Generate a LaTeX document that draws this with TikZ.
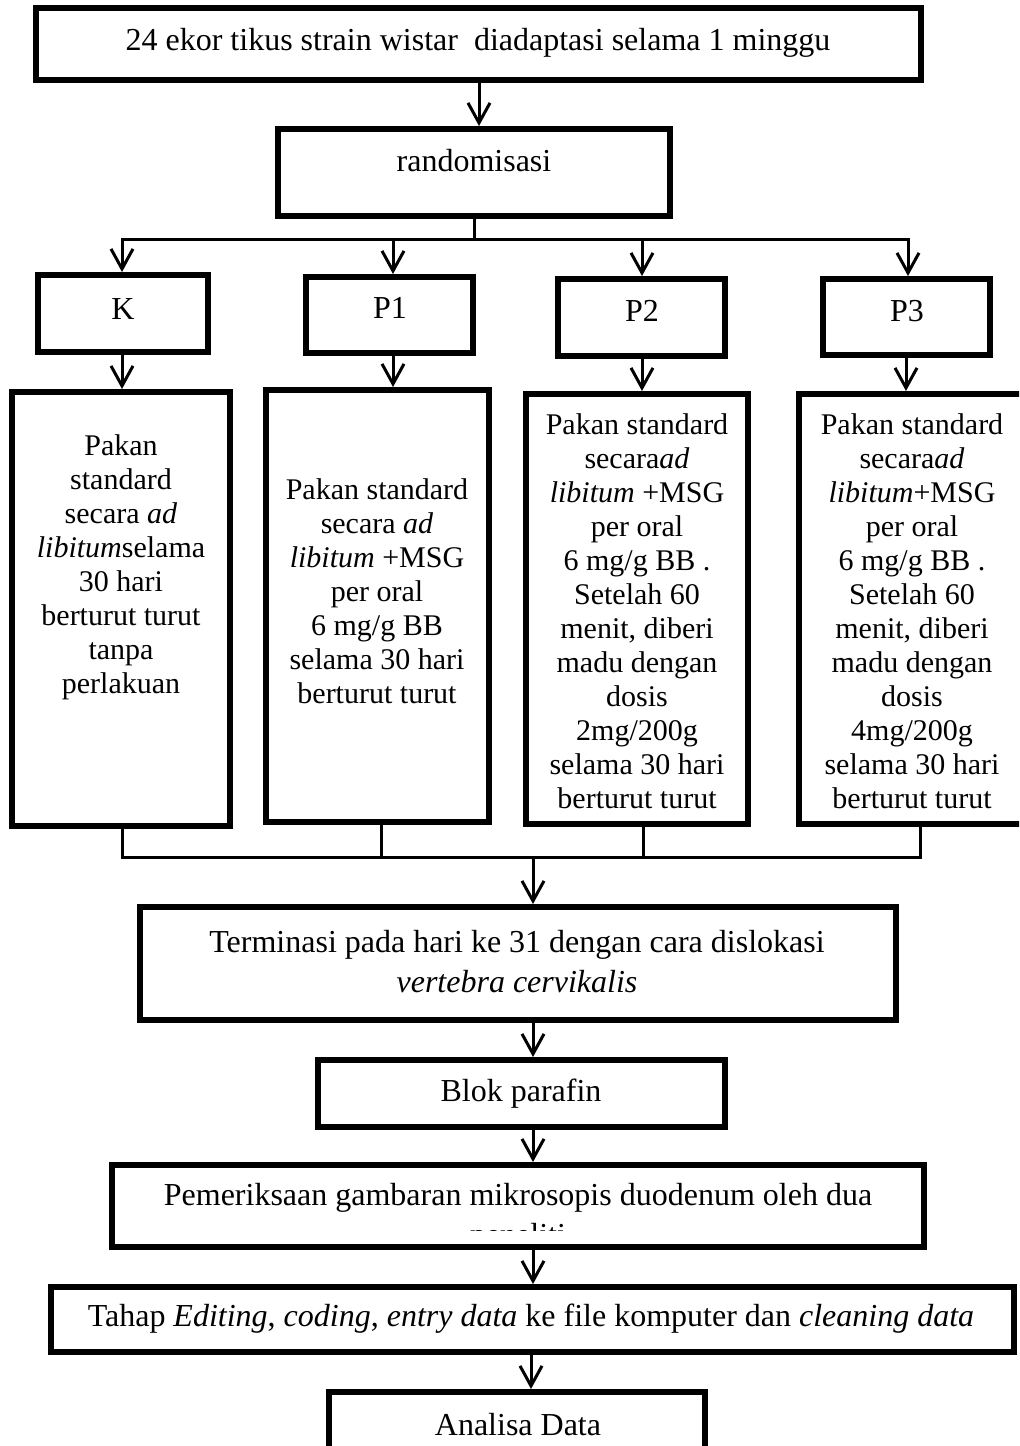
\documentclass[tikz,border=0pt]{standalone}
\usepackage{fontspec}
\setmainfont{Liberation Serif}
\usetikzlibrary{arrows.meta}
\begin{document}
\begin{tikzpicture}[x=0.5pt,y=-0.5pt,
  box/.style={draw, line width=3pt, inner sep=0pt},
  conn/.style={line width=1.5pt, line join=miter},
  arr/.style={conn, -{Straight Barb[length=10pt,width=11pt]}},
  txt/.style={font=\fontsize{15}{17}\selectfont, align=center, inner sep=0pt},
  btxt/.style={font=\fontsize{16}{18}\selectfont, align=center, inner sep=0pt},
  wtxt/.style={font=\fontsize{16}{20}\selectfont, align=center, inner sep=0pt},
]
\useasboundingbox (0,0) rectangle (1019,1446);
\clip (0,0) rectangle (1019,1446);
\fill[white] (0,0) rectangle (1019,1446);

% boxes
\node[box, minimum width=442.5pt, minimum height=36pt] (B1) at (478.5,44) {};
\node[box, minimum width=196pt, minimum height=43.5pt] (B2) at (474,172.5) {};
\node[box, minimum width=85pt, minimum height=38.5pt] (K) at (123,313.5) {};
\node[box, minimum width=83.5pt, minimum height=38pt] (P1) at (389.5,315) {};
\node[box, minimum width=83.5pt, minimum height=38.5pt] (P2) at (641.5,317.5) {};
\node[box, minimum width=83.5pt, minimum height=38pt] (P3) at (906.5,317) {};
\node[box, minimum width=109pt, minimum height=217pt] (TK) at (121,609) {};
\node[box, minimum width=111.5pt, minimum height=216pt] (TP1) at (377.5,606) {};
\node[box, minimum width=111pt, minimum height=215pt] (TP2) at (637,609) {};
\node[box, minimum width=113pt, minimum height=215pt] (TP3) at (912,609) {};
\node[box, minimum width=378pt, minimum height=56.5pt] (TERM) at (518,963.5) {};
\node[box, minimum width=203.5pt, minimum height=33.5pt] (BLOK) at (521.5,1093.5) {};
\node[box, minimum width=406pt, minimum height=41pt] (PEM) at (518,1206) {};
\node[box, minimum width=481.5pt, minimum height=32.5pt] (TAHAP) at (532.5,1319.5) {};
\node[box, minimum width=188pt, minimum height=44pt] (ANA) at (517,1436) {};

% texts
\node[btxt] (t1) at (478,43) {24 ekor tikus strain wistar\ \ diadaptasi selama 1 minggu};
\node[btxt] (t2) at (474,161) {randomisasi};
\node[btxt] (tK0) at (123,309) {K};
\node[btxt] (tP10) at (390,308) {P1};
\node[btxt] (tP20) at (642,311) {P2};
\node[btxt] (tP30) at (907,311) {P3};
\node[txt] (tK) at (121,567) {Pakan\\standard\\secara \textit{ad}\\\textit{libitum}selama\\30 hari\\berturut turut\\tanpa\\perlakuan};
\node[txt] (tP1) at (377,591) {Pakan standard\\secara \textit{ad}\\\textit{libitum} +MSG\\per oral\\6 mg/g BB\\selama 30 hari\\berturut turut};
\node[txt] (tP2) at (637,611) {Pakan standard\\secara\textit{ad}\\\textit{libitum} +MSG\\per oral\\6 mg/g BB .\\Setelah 60\\menit, diberi\\madu dengan\\dosis\\2mg/200g\\selama 30 hari\\berturut turut};
\node[txt] (tP3) at (912,611) {Pakan standard\\secara\textit{ad}\\\textit{libitum}+MSG\\per oral\\6 mg/g BB .\\Setelah 60\\menit, diberi\\madu dengan\\dosis\\4mg/200g\\selama 30 hari\\berturut turut};
\node[wtxt] (tTerm) at (517,962) {Terminasi pada hari ke 31 dengan cara dislokasi\\\textit{vertebra cervikalis}};
\node[btxt] (tBlok) at (521,1094) {Blok parafin};
\begin{scope}
\clip (116,1168) rectangle (920,1230);
\node[wtxt] (tPem) at (518,1218) {Pemeriksaan gambaran mikrosopis duodenum oleh dua\\peneliti};
\end{scope}
\node[btxt] (tTahap) at (531,1319) {Tahap \textit{Editing}, \textit{coding}, \textit{entry data} ke file komputer dan \textit{cleaning data}};
\node[btxt] (tAna) at (518,1425) {Analisa Data};

% column coordinates
\coordinate (c479) at (479,0);
\coordinate (split) at (474,239);
\coordinate (cK) at (122,0);
\coordinate (cP1) at (393,0);
\coordinate (cP2) at (642,0);
\coordinate (cP3) at (906,0);
\coordinate (dP1) at (381,0);
\coordinate (dP2) at (643,0);
\coordinate (dP3) at (920,0);
\coordinate (merge) at (533,857);
\coordinate (c531) at (531,0);

% connectors
\draw[arr] (B1.south -| c479) -- (B2.north -| c479);
\draw[conn] (B2.south) -- (split);
\draw[arr] (split) -| (K.north -| cK);
\draw[arr] (split) -| (P1.north -| cP1);
\draw[arr] (split) -| (P2.north -| cP2);
\draw[arr] (split) -| (P3.north -| 908,0);
\draw[arr] (K.south -| cK) -- (TK.north -| cK);
\draw[arr] (P1.south -| cP1) -- (TP1.north -| cP1);
\draw[arr] (P2.south -| cP2) -- (TP2.north -| cP2);
\draw[arr] (P3.south -| cP3) -- (TP3.north -| cP3);
\draw[conn] (TK.south -| cK) |- (merge);
\draw[conn] (TP1.south -| dP1) |- (merge);
\draw[conn] (TP2.south -| dP2) |- (merge);
\draw[conn] (TP3.south -| dP3) |- (merge);
\draw[arr] (merge) -- (TERM.north -| merge);
\draw[arr] (TERM.south -| merge) -- (BLOK.north -| merge);
\draw[arr] (BLOK.south -| merge) -- (PEM.north -| merge);
\draw[arr] (PEM.south -| merge) -- (TAHAP.north -| merge);
\draw[arr] (TAHAP.south -| c531) -- (ANA.north -| c531);
\end{tikzpicture}
\end{document}
